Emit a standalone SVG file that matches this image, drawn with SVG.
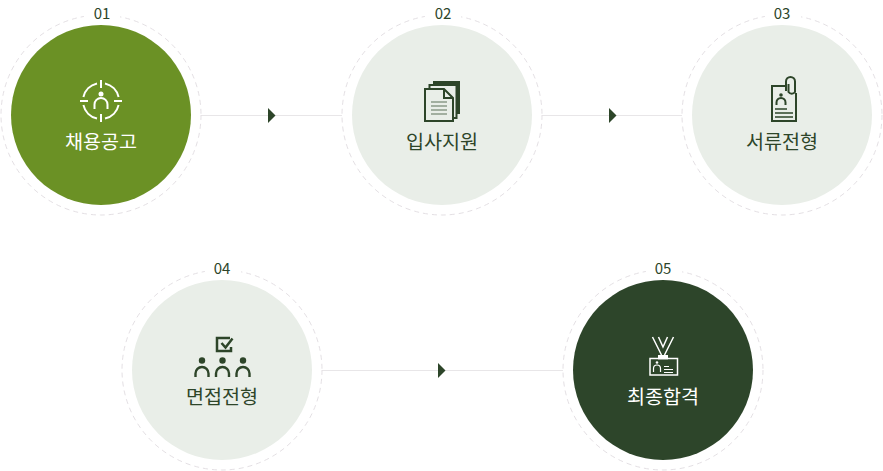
<svg xmlns="http://www.w3.org/2000/svg" width="883" height="471" viewBox="0 0 883 471">
<style>
text{font-family:"Noto Sans CJK KR","Noto Sans",sans-serif;text-anchor:middle}
.ring{fill:#fff;stroke:#e4e0e4;stroke-width:1;stroke-dasharray:5 4}
.num{font-size:15px;fill:#2d4529}
.lab{font-size:19.6px;fill:#2d4529}
.w{fill:#fff}
.gap{fill:#fff}
.conn{stroke:#e8e6e8;stroke-width:1;fill:none}
.arr{fill:#2d4529}
.idk{fill:none;stroke:#2d4529;stroke-width:2}
.idw{fill:none;stroke:#fff;stroke-width:2}
</style>
<g id="connectors">
<line class="conn" x1="201" y1="115.500" x2="342" y2="115.500"/><path class="arr" d="M268 108L275.500 115.500L268 123Z"/>
<line class="conn" x1="542" y1="115.500" x2="682" y2="115.500"/><path class="arr" d="M609 108L616.500 115.500L609 123Z"/>
<line class="conn" x1="322" y1="370.500" x2="563" y2="370.500"/><path class="arr" d="M438 363L445.500 370.500L438 378Z"/>
</g>
<g id="node1">
<circle class="ring" cx="101" cy="115" r="100"/><rect class="gap" x="84" y="2" width="36" height="20"/>
<circle cx="101" cy="115" r="90" fill="#6b9125"/>
<text class="num" x="102" y="19">01</text>
<g class="idw"><path d="M97 83.400A18 18 0 0 0 83.400 97M105 83.400A18 18 0 0 1 118.600 97M83.400 105A18 18 0 0 0 97 118.600M105 118.600A18 18 0 0 0 118.600 105"/><path d="M101 80V88M101 114V122M80 101H88M114 101H122"/><path d="M94.500 109V104.500A6.500 6.500 0 0 1 107.500 104.500V109"/></g>
<circle class="w" cx="101" cy="94" r="2.500"/>
<text class="lab w" x="101" y="148.500">채용공고</text>
</g>
<g id="node2">
<circle class="ring" cx="442" cy="115" r="100"/><rect class="gap" x="425" y="2" width="36" height="20"/>
<circle cx="442" cy="115" r="90" fill="#e9eee8"/>
<text class="num" x="443" y="19">02</text>
<path d="M433 81H460V114H456V85H433Z" fill="#2d4529"/>
<path d="M429.500 88V85H456.500V118H453" class="idk" stroke-width="1.500" style="fill:#e9eee8"/>
<path class="idk" d="M425 89H444L453 98V121H425Z" style="fill:#e9eee8"/>
<path class="idk" d="M444 89V98H453" stroke-width="1.500"/>
<path d="M431 102H447M431 106H447M431 110H447M431 114H447" stroke="#5d7058" stroke-width="1.200"/>
<text class="lab" x="442" y="148.500">입사지원</text>
</g>
<g id="node3">
<circle class="ring" cx="782" cy="115" r="100"/><rect class="gap" x="765" y="2" width="36" height="20"/>
<circle cx="782" cy="115" r="90" fill="#e9eee8"/>
<text class="num" x="782" y="19">03</text>
<path class="idk" d="M785 86H772V121H796V93"/>
<path class="idk" d="M786 91V81.500A4.500 4.500 0 0 1 795 81.500V92A4 4 0 0 1 788.500 92V84" stroke-width="1.800" style="fill:#e9eee8"/>
<circle cx="781" cy="95" r="1.800" fill="#2d4529"/>
<path class="idk" d="M776.500 105V102.500A4.500 4.500 0 0 1 785.500 102.500V105" stroke-width="1.600"/>
<path d="M775 109H787M775 113H793M775 117H793" stroke="#2d4529" stroke-width="1.500" fill="none"/>
<text class="lab" x="782" y="148.500">서류전형</text>
</g>
<g id="node4">
<circle class="ring" cx="222" cy="370" r="100"/><rect class="gap" x="205" y="257" width="36" height="20"/>
<circle cx="222" cy="370" r="90" fill="#e9eee8"/>
<text class="num" x="222" y="274">04</text>
<path class="idk" style="stroke-width:2.500" d="M230 338H217V351H231V347"/>
<path class="idk" style="stroke-width:2.500" d="M221.500 343L225.500 347.500L232.500 338.500"/>
<circle cx="202" cy="360.500" r="3.200" fill="#2d4529"/><circle cx="222.500" cy="360.500" r="3.200" fill="#2d4529"/><circle cx="243" cy="360.500" r="3.200" fill="#2d4529"/>
<path class="idk" style="stroke-width:2.400" d="M195.500 377V373.500A6.500 6.500 0 0 1 208.500 373.500V377M216 377V373.500A6.500 6.500 0 0 1 229 373.500V377M236.500 377V373.500A6.500 6.500 0 0 1 249.500 373.500V377"/>
<text class="lab" x="222" y="403.500">면접전형</text>
</g>
<g id="node5">
<circle class="ring" cx="663" cy="370" r="100"/><rect class="gap" x="646" y="257" width="36" height="20"/>
<circle cx="663" cy="370" r="90" fill="#2d452a"/>
<text class="num" x="663" y="274">05</text>
<path class="idw" style="stroke-width:1.500" d="M652.500 337L661.500 355M658.500 337L663 347L667.500 337M673.500 337L664.500 355"/>
<rect x="658" y="355" width="10" height="4.500" class="w"/>
<path class="idw" style="stroke-width:1.500" d="M658 358.500H650V375H677.500V358.500H668"/>
<circle cx="657" cy="362.500" r="1.300" class="w"/>
<path class="idw" style="stroke-width:1.200" d="M653.500 372V368.500A3.500 3.500 0 0 1 660.500 368.500V372M664 366.500H669M664 369.500H673M664 372.500H673"/>
<text class="lab w" x="663" y="403.500">최종합격</text>
</g>
</svg>
